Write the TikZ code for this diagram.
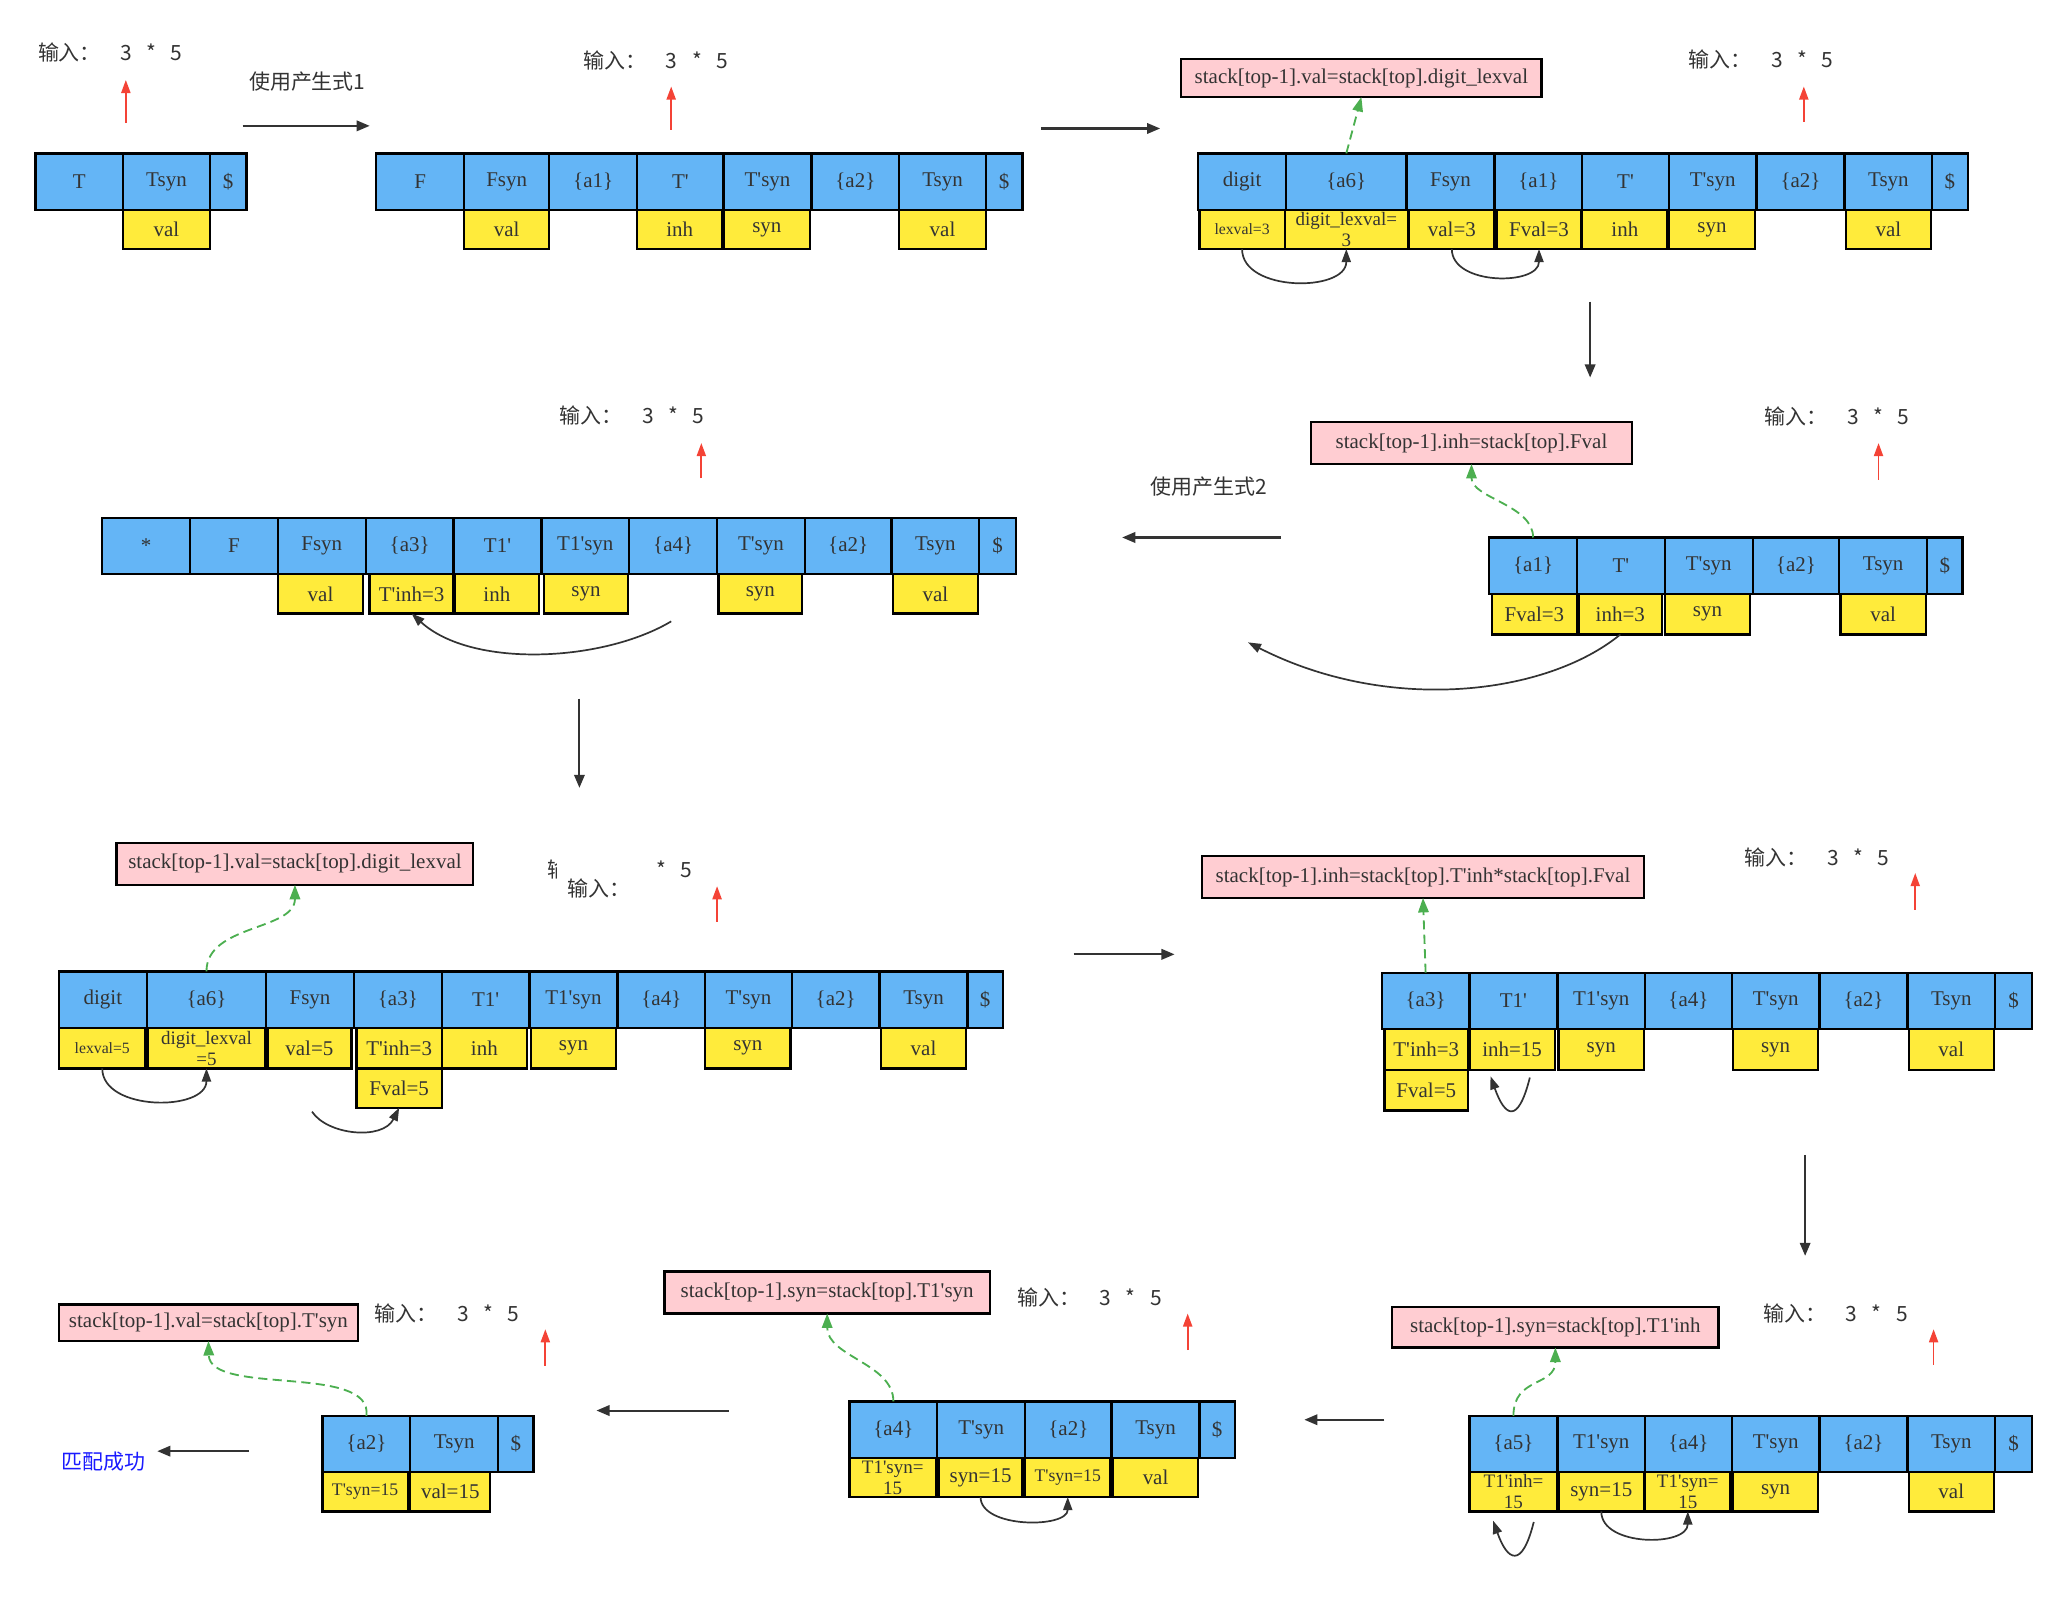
\documentclass[tikz,border=0pt]{standalone}
\usepackage{fontspec}
\setmainfont{Liberation Serif}[Ligatures=TeXOff]
\newfontfamily\cjk{Noto Sans CJK SC}
\usetikzlibrary{arrows.meta}
\definecolor{cblue}{HTML}{64B5F6}
\definecolor{cyel}{HTML}{FFEB3B}
\definecolor{cpink}{HTML}{FFCDD2}
\definecolor{txt}{HTML}{333333}
\definecolor{cred}{HTML}{F44336}
\definecolor{cgreen}{HTML}{4CAF50}
\definecolor{cdark}{HTML}{333333}
\definecolor{cok}{HTML}{1A1AFF}
\newcommand\ftN{\fontsize{16}{18}\selectfont}
\newcommand\ftS{\fontsize{12}{14}\selectfont}
\newcommand\ftM{\fontsize{13.5}{15}\selectfont}
\newcommand\ftT{\fontsize{14.5}{16}\selectfont}
\newcommand\inp{输入：\hspace{15pt}3\hspace{11pt}*\hspace{11pt}5}
\tikzset{
  cell/.style={draw=black, line width=1.8pt, inner sep=0pt, outer sep=0pt, text=txt, align=center, font=\ftN},
  bcell/.style={cell, fill=cblue},
  ycell/.style={cell, fill=cyel},
  pinkbox/.style={draw=black, line width=1.8pt, fill=cpink, inner sep=0pt, outer sep=0pt, text=txt, font=\ftN},
  flow/.style={draw=cdark, line width=1.6pt, -{Triangle[length=10pt,width=8pt]}},
  redarrow/.style={draw=cred, line width=1.3pt, -{Triangle[length=10pt,width=7pt]}},
  greenarrow/.style={draw=cgreen, line width=1.4pt, dash pattern=on 7pt off 4pt, -{Triangle[length=11pt,width=8pt]}},
  curvearrow/.style={draw=cdark, line width=1.3pt, -{Triangle[length=10pt,width=7pt]}},
  lbl/.style={inner sep=0pt, outer sep=0pt, text=txt, font=\cjk\fontsize{16}{18}\selectfont, anchor=west},
}
\newcommand\bluerow[4]{\foreach \xa/\xb/\tx [count=\i] in {#4}{%
  \node[bcell, minimum width={\xb-\xa}, minimum height={#3-#2}] (#1\i) at ({(\xa+\xb)/2},{(#2+#3)/2}) {\tx};}}
\newcommand\yelrow[4]{\foreach \xa/\xb/\f/\tx [count=\i] in {#4}{%
  \node[ycell, font=\f, minimum width={\xb-\xa}, minimum height={#3-#2}] (#1\i) at ({(\xa+\xb)/2},{(#2+#3)/2}) {\tx};}}
\begin{document}
\begin{tikzpicture}[x=1pt,y=-1pt]
\useasboundingbox (0,0) rectangle (1560,1226.6);

% ---------------- Stage A ----------------
\bluerow{Ab}{117}{160}{27/94/T, 94/160/Tsyn, 160/188/\$}
\yelrow{Ay}{160}{190}{94/160/\ftN/val}
\node[lbl] (Ain) at (29,40) {\inp};
\coordinate (rA1) at (96,94); \coordinate (rA2) at (96,61);
\draw[redarrow] (rA1) -- (rA2);
\node[lbl] (P1) at (190,62) {使用产生式1};
\coordinate (f1a) at (185,96); \coordinate (f1b) at (282,96);
\draw[flow] (f1a) -- (f1b);

% ---------------- Stage B ----------------
\bluerow{Bb}{117}{160}{287/354/F, 354/419/Fsyn, 419/486/\{a1\}, 486/552/T', 552/619/T'syn, 619/686/\{a2\}, 686/752/Tsyn, 752/780/\$}
\yelrow{By}{160}{190}{354/419/\ftN/val, 486/551/\ftN/inh, 552/618/\ftN/syn, 686/752/\ftN/val}
\node[lbl] (Bin) at (445,46) {\inp};
\coordinate (rB1) at (512,99); \coordinate (rB2) at (512,66);
\draw[redarrow] (rB1) -- (rB2);
\coordinate (f2a) at (794,98); \coordinate (f2b) at (885,98);
\draw[flow] (f2a) -- (f2b);

% ---------------- Stage C ----------------
\node[pinkbox, minimum width=275, minimum height=29] (pC) at (1038.5,59.5) {stack[top-1].val=stack[top].digit\_lexval};
\bluerow{Cb}{117}{160}{914/981/digit, 981/1073/\{a6\}, 1073/1140/Fsyn, 1140/1207/\{a1\}, 1207/1273/T', 1273/1340/T'syn, 1340/1407/\{a2\}, 1407/1474/Tsyn, 1474/1501/\$}
\yelrow{Cy}{160}{190}{915/980/\ftS/lexval=3, 980/1074/\ftT/digit\_lexval=\\3, 1075/1140/\ftN/val=3, 1142/1206/\ftN/Fval=3, 1207/1272/\ftN/inh, 1273/1339/\ftN/syn, 1408/1473/\ftN/val}
\node[lbl] (Cin) at (1288,45) {\inp};
\coordinate (rC1) at (1376,93); \coordinate (rC2) at (1376,66);
\draw[redarrow] (rC1) -- (rC2);
\draw[greenarrow] (Cb2.north) -- (pC.south);
\draw[curvearrow] (Cy1.south) .. controls +(0,33) and +(0,33) .. (Cy2.south);
\draw[curvearrow] (Cy3.south) .. controls +(0,28) and +(0,28) .. (Cy4.south);
\coordinate (f3a) at (1213,230); \coordinate (f3b) at (1213,288);
\draw[flow] (f3a) -- (f3b);

% ---------------- Stage D ----------------
\node[pinkbox, minimum width=245, minimum height=32] (pD) at (1122.5,338) {stack[top-1].inh=stack[top].Fval};
\bluerow{Db}{410}{453}{1136/1203/\{a1\}, 1203/1270/T', 1270/1337/T'syn, 1337/1403/\{a2\}, 1403/1470/Tsyn, 1470/1497/\$}
\yelrow{Dy}{453}{484}{1138/1203/\ftN/Fval=3, 1204/1268/\ftN/inh=3, 1270/1335/\ftN/syn, 1404/1469/\ftN/val}
\node[lbl] (Din) at (1346,318) {\inp};
\coordinate (rD1) at (1433,366); \coordinate (rD2) at (1433,338);
\draw[redarrow] (rD1) -- (rD2);
\draw[greenarrow] (Db1.north) .. controls +(0,-25) and +(0,26) .. (pD.south);
\coordinate (Dend) at (952,490);
\draw[curvearrow] (Dy2.south) .. controls (1180,530) and (1060,545) .. (Dend);
\node[lbl] (P2) at (878,371) {使用产生式2};
\coordinate (f4a) at (977,410); \coordinate (f4b) at (856,410);
\draw[flow] (f4a) -- (f4b);

% ---------------- Stage E ----------------
\bluerow{Eb}{395}{438}{78/145/*, 145/212/F, 212/279/Fsyn, 279/346/\{a3\}, 346/413/T1', 413/480/T1'syn, 480/547/\{a4\}, 547/614/T'syn, 614/680/\{a2\}, 680/747/Tsyn, 747/775/\$}
\yelrow{Ey}{438}{468}{212/277/\ftN/val, 282/346/\ftN/T'inh=3, 347/411/\ftN/inh, 415/479/\ftN/syn, 548/612/\ftN/syn, 681/746/\ftN/val}
\node[lbl] (Ein) at (427,317) {\inp};
\coordinate (rE1) at (535,365); \coordinate (rE2) at (535,338);
\draw[redarrow] (rE1) -- (rE2);
\coordinate (Estart) at (512,474);
\draw[curvearrow] (Estart) .. controls (460,505) and (360,510) .. (Ey2.south);
\coordinate (f5a) at (442,533); \coordinate (f5b) at (442,601);
\draw[flow] (f5a) -- (f5b);

% ---------------- Stage F ----------------
\node[pinkbox, minimum width=272, minimum height=32] (pF) at (225,659) {stack[top-1].val=stack[top].digit\_lexval};
\bluerow{Fb}{741}{784}{45/112/digit, 112/203/\{a6\}, 203/270/Fsyn, 270/337/\{a3\}, 337/404/T1', 404/471/T1'syn, 471/538/\{a4\}, 538/604/T'syn, 604/671/\{a2\}, 671/738/Tsyn, 738/765/\$}
\yelrow{Fy}{784}{815}{45/111/\ftS/lexval=5, 113/202/\ftT/digit\_lexval\\=5, 204/268/\ftN/val=5, 272/337/\ftN/T'inh=3, 337/402/\ftN/inh, 405/470/\ftN/syn, 538/603/\ftN/syn, 672/737/\ftN/val}
\node[ycell, minimum width=65, minimum height=30] (Fy9) at (304.5,830) {Fval=5};
\node[lbl] (Fin) at (418,663) {\inp};
\fill[white] (425,652) rectangle (497,700);
\node[lbl] (Fin2) at (433,678) {输入：};
\coordinate (rF1) at (547,703); \coordinate (rF2) at (547,676);
\draw[redarrow] (rF1) -- (rF2);
\draw[greenarrow] (Fb2.north) .. controls +(0,-36) and +(0,35) .. (pF.south);
\draw[curvearrow] (Fy1.south) .. controls +(0,33) and +(0,33) .. (Fy2.south);
\coordinate (Fstart) at (238,848);
\draw[curvearrow] (Fstart) .. controls (250,866) and (292,870) .. (Fy9.south);
\coordinate (f6a) at (819,728); \coordinate (f6b) at (896,728);
\draw[flow] (f6a) -- (f6b);

% ---------------- Stage G ----------------
\node[pinkbox, minimum width=337, minimum height=32] (pG) at (1085.5,669) {stack[top-1].inh=stack[top].T'inh*stack[top].Fval};
\bluerow{Gb}{742}{785}{1054/1121/\{a3\}, 1121/1188/T1', 1188/1255/T1'syn, 1255/1321/\{a4\}, 1321/1388/T'syn, 1388/1455/\{a2\}, 1455/1522/Tsyn, 1522/1550/\$}
\yelrow{Gy}{785}{816}{1056/1120/\ftN/T'inh=3, 1121/1186/\ftN/inh=15, 1189/1254/\ftN/syn, 1322/1387/\ftN/syn, 1456/1521/\ftN/val}
\node[ycell, minimum width=64, minimum height=31] (Gy6) at (1088,831.5) {Fval=5};
\node[lbl] (Gin) at (1331,654) {\inp};
\coordinate (rG1) at (1461,694); \coordinate (rG2) at (1461,666);
\draw[redarrow] (rG1) -- (rG2);
\draw[greenarrow] (Gb1.north) -- (pG.south);
\coordinate (Gs) at (1167,822); \coordinate (Ge) at (1137,821);
\draw[curvearrow] (Gs) .. controls (1158,858) and (1148,852) .. (Ge);
\coordinate (f7a) at (1377,881); \coordinate (f7b) at (1377,958);
\draw[flow] (f7a) -- (f7b);

% ---------------- Stage H ----------------
\node[pinkbox, minimum width=249, minimum height=31] (pH) at (1186.5,1012.5) {stack[top-1].syn=stack[top].T1'inh};
\bluerow{Hb}{1080}{1123}{1121/1188/\{a5\}, 1188/1255/T1'syn, 1255/1321/\{a4\}, 1321/1388/T'syn, 1388/1455/\{a2\}, 1455/1522/Tsyn, 1522/1550/\$}
\yelrow{Hy}{1123}{1153}{1121/1188/\ftT/T1'inh=\\15, 1189/1254/\ftN/syn=15, 1255/1320/\ftT/T1'syn=\\15, 1322/1387/\ftN/syn, 1456/1521/\ftN/val}
\node[lbl] (Hin) at (1345,1002) {\inp};
\coordinate (rH1) at (1475,1041); \coordinate (rH2) at (1475,1014);
\draw[redarrow] (rH1) -- (rH2);
\draw[greenarrow] (Hb1.north) .. controls +(0,-30) and +(0,30) .. (pH.south);
\coordinate (Hs) at (1170,1161); \coordinate (He) at (1139,1160);
\draw[curvearrow] (Hs) .. controls (1161,1197) and (1150,1191) .. (He);
\draw[curvearrow] (Hy2.south) .. controls +(0,27) and +(0,27) .. (Hy3.south);
\coordinate (f8a) at (1056,1083); \coordinate (f8b) at (995,1083);
\draw[flow] (f8a) -- (f8b);

% ---------------- Stage I ----------------
\node[pinkbox, minimum width=248, minimum height=32] (pI) at (631,986) {stack[top-1].syn=stack[top].T1'syn};
\bluerow{Ib}{1069}{1112}{648/715/\{a4\}, 715/782/T'syn, 782/848/\{a2\}, 848/915/Tsyn, 915/942/\$}
\yelrow{Iy}{1112}{1142}{648/714/\ftT/T1'syn=\\15, 716/780/\ftN/syn=15, 782/847/\ftM/T'syn=15, 849/914/\ftN/val}
\node[lbl] (Iin) at (776,990) {\inp};
\coordinate (rI1) at (906,1030); \coordinate (rI2) at (906,1002);
\draw[redarrow] (rI1) -- (rI2);
\draw[greenarrow] (Ib1.north) .. controls +(0,-29) and +(0,33) .. (pI.south);
\draw[curvearrow] (Iy2.south) .. controls +(0,24) and +(0,24) .. (Iy3.south);
\coordinate (f9a) at (556,1076); \coordinate (f9b) at (455,1076);
\draw[flow] (f9a) -- (f9b);

% ---------------- Stage J ----------------
\node[pinkbox, minimum width=228, minimum height=28] (pJ) at (159,1009) {stack[top-1].val=stack[top].T'syn};
\bluerow{Jb}{1080}{1123}{246/313/\{a2\}, 313/380/Tsyn, 380/407/\$}
\yelrow{Jy}{1123}{1153}{246/311/\ftM/T'syn=15, 313/374/\ftN/val=15}
\node[lbl] (Jin) at (286,1002) {\inp};
\coordinate (rJ1) at (416,1042); \coordinate (rJ2) at (416,1014);
\draw[redarrow] (rJ1) -- (rJ2);
\draw[greenarrow] (Jb1.north) .. controls (285,1040) and (160,1065) .. (pJ.south);
\coordinate (f10a) at (190,1107); \coordinate (f10b) at (120,1107);
\draw[flow] (f10a) -- (f10b);
\node[lbl, text=cok] (ok) at (47,1115) {匹配成功};
\end{tikzpicture}
\end{document}
